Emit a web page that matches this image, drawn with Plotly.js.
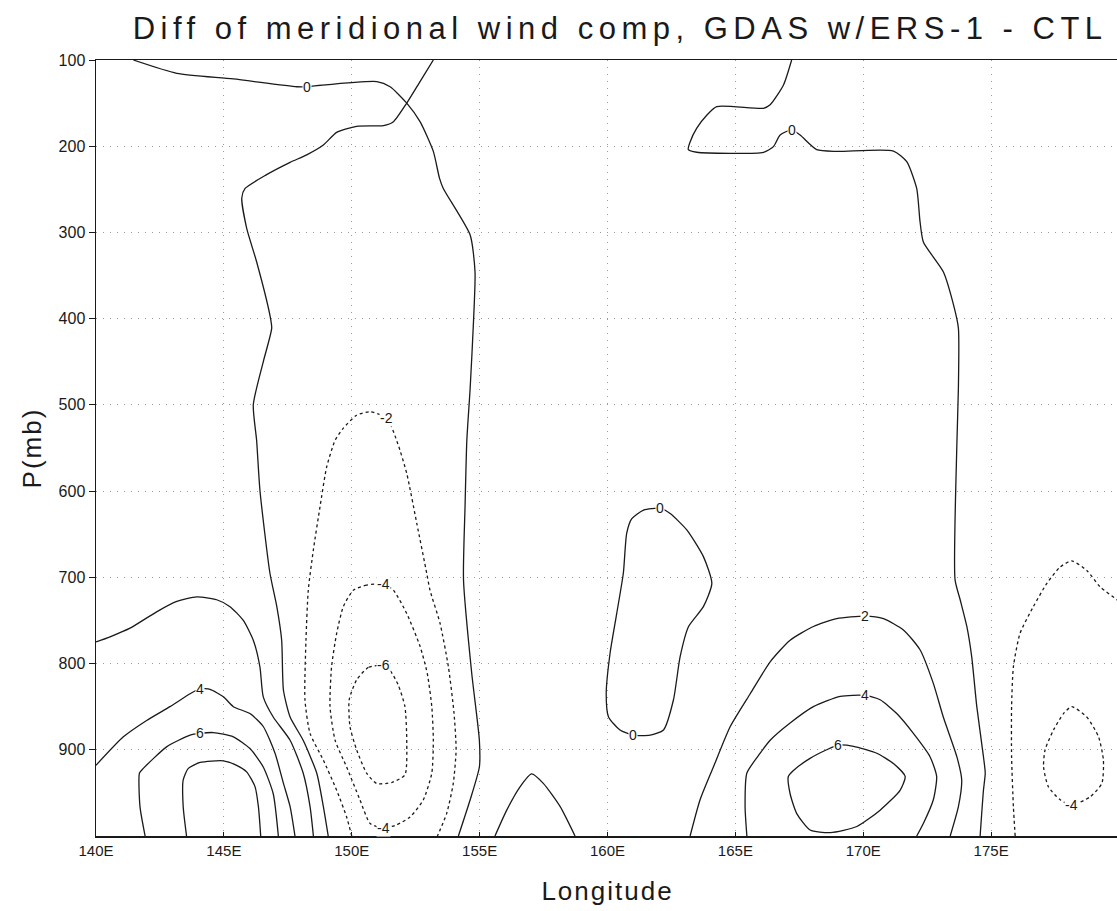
<!DOCTYPE html>
<html><head><meta charset="utf-8">
<script src="https://cdn.plot.ly/plotly-3.0.1.min.js"></script>
<style>
html,body{margin:0;padding:0;overflow:hidden;background:#fff;}
#chart{width:1140px;height:911px;}
.gtitle{letter-spacing:5.5px;}
.xtitle,.ytitle{letter-spacing:2px;}
</style></head><body><div id="chart"></div>
<script>
// ---- tick labels ----
const lonTicks = [140,145,150,155,160,165,170,175];
const lonTickText = ['140E','145E','150E','155E','160E','165E','170E','175E'];
const pTicks = [100,200,300,400,500,600,700,800,900];

// ---- contour lines (lon, pressure) ----
// 0 contour from top-left, down east side of 155E
const zeroA_lon = [141.46,143.16,145.37,147.85,148.24,148.63,150.98,151.5,152.15,152.67,153.19,153.43,153.58,154.63,154.82,154.76,154.63,154.5,154.43,154.37,154.69,154.99,154.99,154.63,154.17];
const zeroA_p   = [100,115.5,122,131,131,129.8,125,131,150,171.5,206,237,249,303,345.6,403.6,480.6,541,618,703,811,889,920,958,1000];
// 0 contour from top (153E) down west side (~146-149E)
const zeroB_lon = [153.19,152.67,152.15,151.63,151.24,150.19,149.41,148.89,148.24,147.59,146.67,145.83,145.7,145.89,146.28,146.8,146.87,146.54,146.15,146.28,146.41,146.8,147.07,147.26,147.33,147.59,148.1,148.63,148.89,149.08];
const zeroB_p   = [100,125,150,171.5,176,177,184,198.6,210,218.7,233,249,260,295,334,396,411,450,500,541,599,695,734,773,831,862,889,927,966,1000];
// positive contours, west part
const pos2W_lon = [140.0,140.55,141.33,142.37,143.16,143.94,144.72,145.24,145.76,146.15,146.41,146.54,146.93,147.59,148.1,148.37,148.5];
const pos2W_p   = [775,769,759,740,728,722.6,726,734,750,773,804,838.6,862,889,927,966,1000];
const pos4W_lon = [140.0,141.07,141.98,142.89,143.68,144.07,144.46,144.98,145.37,146.02,146.54,147.0,147.33,147.59,147.78];
const pos4W_p   = [918,885,866,850,835,829,830,838.6,850,858,873,904,939,966,1000];
const pos6W_lon = [141.92,141.72,141.7,141.85,142.76,143.68,144.07,144.59,145.37,146.02,146.54,146.93,147.13];
const pos6W_p   = [1000,966,927,921.6,896.6,883,881,880,885,898.6,920,951,1000];
const pos8W_lon = [143.54,143.41,143.41,143.61,144.07,144.98,145.5,145.89,146.22,146.35,146.44];
const pos8W_p   = [1000,966,935,921.6,914.7,912.8,918,925.6,943,966,1000];
// negative contours near 150E
const neg2_lon = [150.0,149.8,149.41,148.89,148.37,148.17,148.21,148.3,148.5,148.76,149.02,149.35,149.67,150.19,150.7,151.37,151.8,152.15,152.54,152.93,153.06,153.45,153.78,154.0,154.08,153.97,153.71,153.35];
const neg2_p   = [1000,978,947,912,881,842,773,715,668,618,572,541,527,512,508,515,545,579.5,637,695,715,753,804,858,900,939,974,1000];
const neg4_lon = [151.24,150.58,150.06,149.67,149.41,149.21,149.15,149.35,149.8,150.32,150.72,151.24,151.76,152.28,152.8,153.13,153.19,153.13,152.95,152.67,152.15,151.63,151.24];
const neg4_p   = [708,709,715,734,765,804,850,889,920,958,985.5,991,987,978,958,927,889,850,811,780,742,715,708];
const neg6_lon = [151.24,150.65,150.19,149.9,149.93,150.19,150.58,150.97,151.56,152.08,152.15,152.08,151.82,151.5,151.24];
const neg6_p   = [802,804.5,819,842,873,900,927,939,938,929,889,850,825,808,802];
// arch near 157E
const arch_lon = [155.6,156.06,156.58,157.03,157.49,158.15,158.73];
const arch_p   = [1000,970,943,928,939,966,1000];
// closed 0 loop near 162E
const loop0_lon = [162.06,161.41,160.95,160.75,160.62,160.36,160.1,159.95,160.04,160.49,161.0,161.67,162.19,162.58,162.84,163.17,163.75,164.08,163.75,163.1,162.45,162.06];
const loop0_p   = [620,622,632,649,695,742,788,835,862,877,883,883,877,842,792,757,734,707,676,645,626,620];
// 0 contour, top right, down to 175E
const zeroC_lon = [167.2,166.88,166.36,166.1,164.27,163.88,163.49,163.23,163.16,163.49,166.1,166.49,166.75,167.2,167.53,168.18,168.96,171.18,171.7,172.09,172.22,172.35,173.13,173.53,173.72,173.72,173.66,173.59,173.79,174.05,174.24,174.44,174.7,174.77,174.7,174.57];
const zeroC_p   = [100,129,152,156,154,164,179,195,204,207,207,200.5,187,181,187,204,206,205.6,218,249,287.5,311,345.6,384,411,481,546.6,703,726,757,792,850,908,927,947,1000];
// positive contours, east part
const pos2E_lon = [163.23,163.62,164.14,164.8,165.58,166.36,167.14,168.05,168.96,170.07,170.79,171.57,172.22,172.74,173.13,173.66,173.85,173.72,173.4];
const pos2E_p   = [1000,958,920,873,835,798,773,757,748,745,748,761,784,823,862,908,935,966,1000];
const pos4E_lon = [165.45,165.38,165.45,165.97,166.36,167.14,168.05,169.1,170.07,170.66,171.31,171.96,172.61,172.87,172.74,172.35,172.09];
const pos4E_p   = [1000,966,927,904,889,869,850,838,837,842,858,881,908,931,958,985.5,1000];
const pos6E_lon = [169.03,169.62,170.53,171.18,171.64,171.44,170.66,169.75,168.71,167.92,167.4,167.14,167.07,167.27,167.92,168.57,169.03];
const pos6E_p   = [894.6,896,904,916,931,947,970,989,996,993,974,951,931,924,910,900,894.6];
// negative contours, east edge
const neg2E_lon = [175.94,175.87,175.8,175.8,175.87,176.13,176.65,177.18,177.7,178.15,178.74,179.26,179.92,180.5];
const neg2E_p   = [1000,966,908,850,804,765,734,707,688,681,692,711,726,740];
const neg4E_lon = [178.15,178.74,179.2,179.39,179.33,178.87,178.15,177.7,177.24,177.05,177.11,177.44,177.83,178.15];
const neg4E_p   = [850,862,885,912,939,954.6,964,958,943,920,900,877,858,850];

// ---- contour labels ----
const labelText = ['0','-2','-4','-6','-4','4','6','0','0','0','2','4','6','-4'];
const labelLon  = [148.24,151.37,151.24,151.24,151.24,144.07,144.07,162.06,161.0,167.2,170.07,170.07,169.03,178.15];
const labelP    = [131,515,708,802,991,829,881,620,883,181,745,837,895,964];

const solid = [[zeroA_lon,zeroA_p],[zeroB_lon,zeroB_p],[pos2W_lon,pos2W_p],[pos4W_lon,pos4W_p],[pos6W_lon,pos6W_p],[pos8W_lon,pos8W_p],[arch_lon,arch_p],[loop0_lon,loop0_p],[zeroC_lon,zeroC_p],[pos2E_lon,pos2E_p],[pos4E_lon,pos4E_p],[pos6E_lon,pos6E_p]];
const dashed = [[neg2_lon,neg2_p],[neg4_lon,neg4_p],[neg6_lon,neg6_p],[neg2E_lon,neg2E_p],[neg4E_lon,neg4E_p]];

function mk(pair, dash){
  return {type:'scatter', mode:'lines', x:pair[0], y:pair[1], hoverinfo:'skip', showlegend:false,
    line:{color:'#1a1a1a', width:1.3, dash: dash ? '3px,3px' : 'solid', shape:'spline', smoothing:0.6}};
}
const traces = solid.map(s=>mk(s,false)).concat(dashed.map(s=>mk(s,true)));

const FONT = 'Liberation Sans, Arial, sans-serif';
const annotations = labelText.map((t,i)=>({x:labelLon[i], y:labelP[i], xref:'x', yref:'y', text:t, showarrow:false,
  font:{family:FONT, size:14, color:'#1a1a1a'}, bgcolor:'white', borderpad:0}));

const layout = {
  width:1140, height:911,
  margin:{l:96, r:21, t:60, b:75},
  paper_bgcolor:'white', plot_bgcolor:'white',
  showlegend:false,
  font:{family:FONT, color:'#1a1a1a'},
  title:{text:'Diff of meridional wind comp, GDAS w/ERS-1 - CTL', xref:'container', x:0.544, xanchor:'center',
         yref:'container', y:0.969, yanchor:'middle', font:{family:FONT, size:31, color:'#1a1a1a'}},
  xaxis:{range:[140,180], tickmode:'array', tickvals:lonTicks, ticktext:lonTickText,
         ticks:'inside', ticklen:4, tickcolor:'#1a1a1a', showline:true, linecolor:'#1a1a1a', linewidth:1.5, mirror:true,
         showgrid:true, gridcolor:'#9a9a9a', gridwidth:1, griddash:'1px,6px', zeroline:false,
         tickfont:{family:'Liberation Sans Narrow, '+FONT, size:15, color:'#1a1a1a'},
         title:{text:'Longitude', font:{family:FONT, size:26, color:'#1a1a1a'}, standoff:24}},
  yaxis:{range:[1000,100], tickmode:'array', tickvals:pTicks,
         ticks:'outside', ticklen:6, tickcolor:'#1a1a1a', showline:true, linecolor:'#1a1a1a', linewidth:1.5, mirror:true,
         showgrid:true, gridcolor:'#9a9a9a', gridwidth:1, griddash:'1px,6px', zeroline:false,
         tickfont:{family:FONT, size:16, color:'#1a1a1a'},
         title:{text:'P(mb)', font:{family:FONT, size:26, color:'#1a1a1a'}, standoff:9}},
  annotations: annotations
};
Plotly.newPlot('chart', traces, layout, {staticPlot:true, displayModeBar:false});
</script></body></html>
